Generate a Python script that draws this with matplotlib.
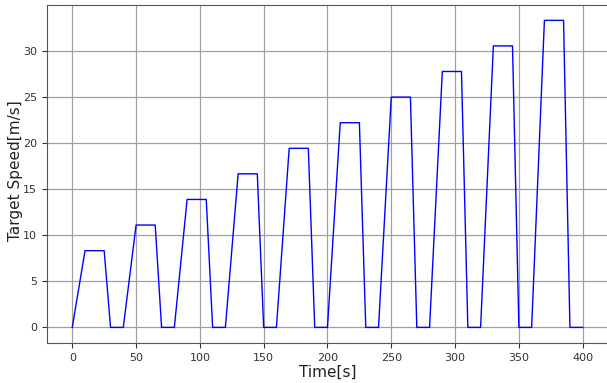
import numpy as np
import matplotlib
matplotlib.use("Agg")
import matplotlib.pyplot as plt

# profil trapezoidal : 10 cycles de 40 s
cycle_start = [0, 40, 80, 120, 160, 200, 240, 280, 320, 360]
plateau = [8.33, 11.11, 13.89, 16.67, 19.44, 22.22, 25.0, 27.78, 30.56, 33.33]
phase_t = [0, 10, 25, 30, 40]  # debut montee, plateau, debut descente, arret, fin

t, v = [], []
for t0, vmax in zip(cycle_start, plateau):
    t += [t0 + p for p in phase_t]
    v += [0, vmax, vmax, 0, 0]

fig = plt.figure(figsize=(6.07, 3.83), dpi=100)
ax = fig.add_axes([0.077, 0.105, 0.925, 0.882])
ax.plot(t, v, color="blue", linewidth=1.0)
ax.set_xlim(-20, 420)
ax.set_ylim(-1.67, 35)
ax.set_xticks(range(0, 401, 50))
ax.set_yticks(range(0, 31, 5))
ax.grid(True, color="#a0a0a0", linewidth=0.9)
for s in ax.spines.values():
    s.set_color("#555555")
ax.tick_params(labelsize=8, colors="#333333")
ax.set_xlabel("Time[s]", fontsize=11, labelpad=2, color="#222222")
ax.set_ylabel("Target Speed[m/s]", fontsize=11, color="#222222")
ax.yaxis.set_label_coords(-0.043, 0.51)
fig.savefig("out.png", dpi=100)
